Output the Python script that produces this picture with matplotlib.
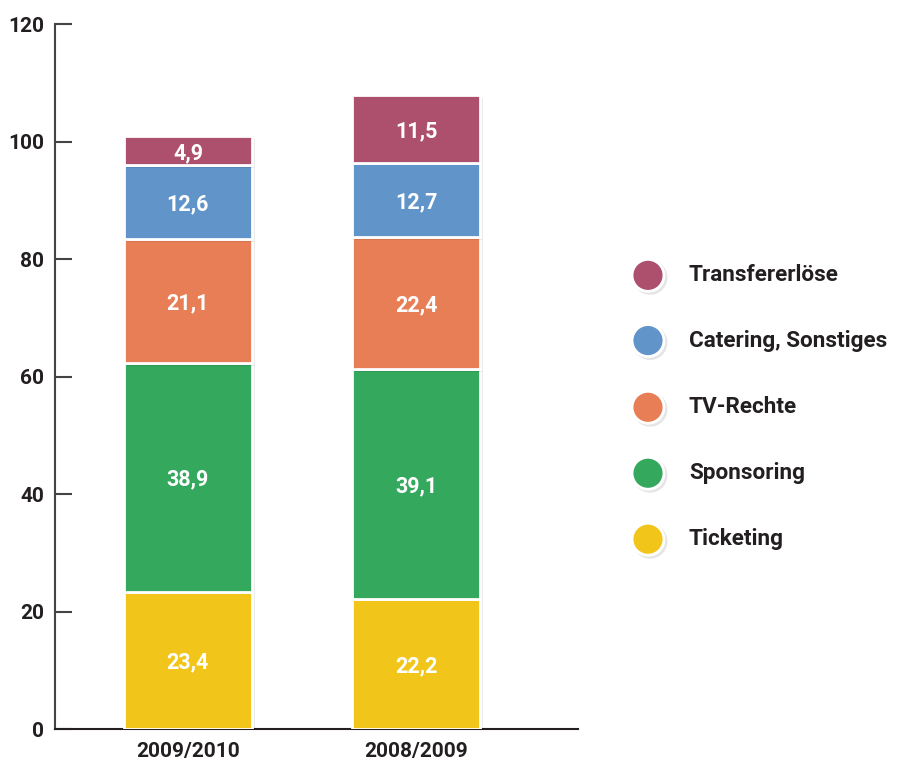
import matplotlib
matplotlib.use("Agg")
import matplotlib.pyplot as plt
import matplotlib.patheffects as pe
import numpy as np

plt.rcParams['font.family'] = ['Roboto', 'DejaVu Sans']

# data
seasons = ["2009/2010", "2008/2009"]
series = ["Ticketing", "Sponsoring", "TV-Rechte", "Catering, Sonstiges", "Transfererlöse"]
ticketing = [23.4, 22.2]
sponsoring = [38.9, 39.1]
tv_rechte = [21.1, 22.4]
catering = [12.6, 12.7]
transfer = [4.9, 11.5]
colors = ["#f1c51a", "#34a85d", "#e87e55", "#6194c9", "#ac506d"]
y_ticks = [0, 20, 40, 60, 80, 100, 120]

values = [ticketing, sponsoring, tv_rechte, catering, transfer]
dark = "#231f20"
shadow = [pe.SimplePatchShadow(offset=(2, -2), shadow_rgbFace="#000000", alpha=0.08), pe.Normal()]

fig = plt.figure(figsize=(8.98, 7.67), dpi=100)
ax = fig.add_axes([0.0612, 0.0495, 0.5824, 0.9192])

x = np.arange(len(seasons))
bottom = np.zeros(len(seasons))
for name, vals, col in zip(series, values, colors):
    bars = ax.bar(x, vals, width=0.56, bottom=bottom, color=col,
                  edgecolor="white", linewidth=2, label=name, zorder=3,
                  path_effects=shadow)
    for b, v in zip(bars, vals):
        ax.text(b.get_x() + b.get_width() / 2, b.get_y() + b.get_height() / 2,
                f"{v:.1f}".replace(".", ","), ha="center", va="center_baseline",
                color="white", fontsize=15.5, fontweight="bold", zorder=4)
    bottom += np.array(vals)

ax.set_xlim(-0.583, 1.71)
ax.set_ylim(0, 120)
ax.set_yticks(y_ticks)
ax.set_yticklabels([str(t) for t in y_ticks], fontsize=15, fontweight="bold", color=dark)
ax.set_xticks(x)
ax.set_xticklabels(seasons, fontsize=15, fontweight="bold", color=dark)
ax.tick_params(axis="y", direction="in", length=12, width=1.5, color="#444444", pad=8)
ax.tick_params(axis="x", length=0, pad=9)

for s in ["top", "right"]:
    ax.spines[s].set_visible(False)
ax.spines["left"].set_color("#444444")
ax.spines["left"].set_linewidth(1.5)
ax.spines["bottom"].set_color(dark)
ax.spines["bottom"].set_linewidth(1.5)

# legend, top to bottom
leg_y = [0.641, 0.556, 0.469, 0.383, 0.297]
for name, col, yy in zip(series[::-1], colors[::-1], leg_y):
    dot = plt.Line2D([0.7216], [yy], marker="o", markersize=23,
                     markerfacecolor=col, markeredgecolor="white",
                     markeredgewidth=2, transform=fig.transFigure)
    dot.set_path_effects([pe.SimpleLineShadow(offset=(1.5, -1.5), alpha=0.1), pe.Normal()])
    fig.add_artist(dot)
    fig.text(0.767, yy, name, ha="left", va="center", fontsize=16.2,
             fontweight="bold", color=dark)

fig.savefig("out.png", dpi=100)
